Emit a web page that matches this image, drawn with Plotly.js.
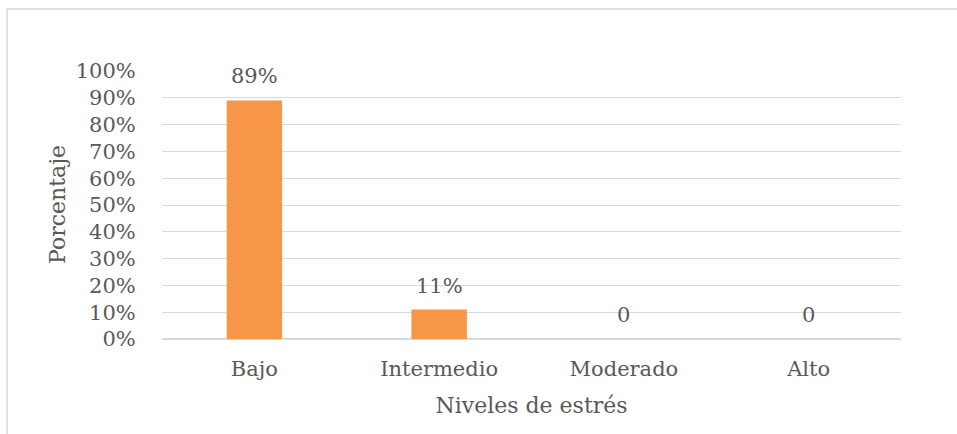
<!DOCTYPE html>
<html>
<head>
<meta charset="utf-8">
<script src="https://cdn.plot.ly/plotly-3.0.1.min.js"></script>
<style>html,body{margin:0;padding:0;background:#fff;}#chart{width:957px;height:434px;}</style>
</head>
<body>
<div id="chart"></div>
<script>
const categories = ["Bajo", "Intermedio", "Moderado", "Alto"];
const values = [0.89, 0.11, 0, 0];
const valueLabels = ["89%", "11%", "0", "0"];
const yTitle = "Porcentaje";
const xTitle = "Niveles de estrés";

const W = 957, H = 434;
const M = {l: 162, r: 56, t: 71, b: 95};
const pw = W - M.l - M.r, ph = H - M.t - M.b;
const px = x => (x - M.l) / pw;
const py = y => (H - M.b - y) / ph;

const font = "DejaVu Serif, serif";
const grey = "#595959";
const grid = "#D9D9D9";

const trace = {
  type: "bar",
  x: categories,
  y: values,
  marker: {color: "#F79646"},
  width: 0.3,
  hoverinfo: "none"
};

const annotations = categories.map((c, i) => ({
  x: c, y: values[i], xref: "x", yref: "y",
  text: valueLabels[i], showarrow: false,
  yanchor: "bottom", yshift: 10,
  font: {family: font, size: 21, color: grey}
}));
annotations.push({
  xref: "paper", yref: "paper", x: px(57), y: py(205),
  text: yTitle, textangle: -90, showarrow: false,
  xanchor: "center", yanchor: "middle",
  font: {family: font, size: 22, color: grey}
});

const layout = {
  width: W, height: H,
  margin: M,
  paper_bgcolor: "#fff", plot_bgcolor: "#fff",
  showlegend: false,
  bargap: 0.7,
  font: {family: font, color: grey, size: 21},
  xaxis: {
    type: "category",
    showgrid: false, zeroline: false,
    showline: false,
    ticks: "outside", ticklen: 11, tickcolor: "rgba(0,0,0,0)",
    tickfont: {family: font, size: 21, color: grey},
    title: {text: xTitle, standoff: 17, font: {family: font, size: 22, color: grey}},
    fixedrange: true
  },
  yaxis: {
    range: [0, 1], dtick: 0.1, tick0: 0,
    tickformat: ".0%",
    showgrid: true, gridcolor: grid, gridwidth: 1,
    zeroline: true, zerolinecolor: grid, zerolinewidth: 1.5,
    showline: false,
    ticks: "outside", ticklen: 21, tickcolor: "rgba(0,0,0,0)",
    tickfont: {family: font, size: 21, color: grey},
    fixedrange: true
  },
  annotations: annotations,
  shapes: [
    {type: "line", xref: "paper", yref: "paper", x0: px(7), x1: px(957), y0: py(9), y1: py(9), line: {color: grid, width: 1.5}},
    {type: "line", xref: "paper", yref: "paper", x0: px(7), x1: px(7), y0: py(9), y1: py(434), line: {color: grid, width: 1.5}}
  ]
};

Plotly.newPlot("chart", [trace], layout, {displayModeBar: false, staticPlot: true});
</script>
</body>
</html>
